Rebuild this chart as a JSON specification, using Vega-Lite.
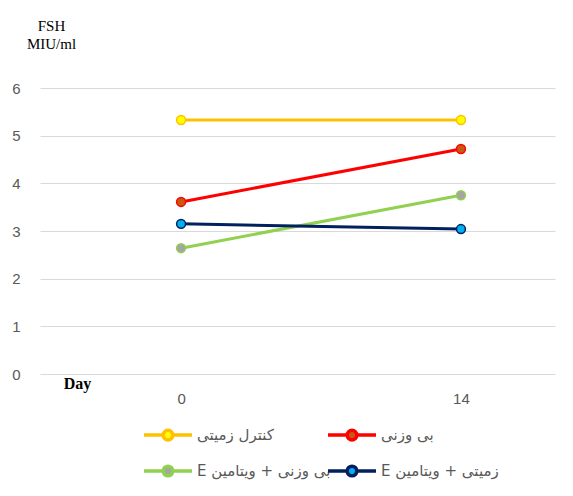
{
  "$schema": "https://vega.github.io/schema/vega-lite/v6.json",
  "width": 515,
  "height": 286,
  "autosize": {"type": "none"},
  "padding": {"left": 40, "top": 88, "right": 18, "bottom": 122},
  "background": "white",
  "config": {"view": {"stroke": null}},
  "data": {
    "values": [
      {"day": "0", "group": "کنترل زمیتی", "fsh": 5.33},
      {"day": "14", "group": "کنترل زمیتی", "fsh": 5.33},
      {"day": "0", "group": "بی وزنی", "fsh": 3.61},
      {"day": "14", "group": "بی وزنی", "fsh": 4.72},
      {"day": "0", "group": "بی وزنی + ویتامین E", "fsh": 2.64},
      {"day": "14", "group": "بی وزنی + ویتامین E", "fsh": 3.75},
      {"day": "0", "group": "زمیتی + ویتامین E", "fsh": 3.15},
      {"day": "14", "group": "زمیتی + ویتامین E", "fsh": 3.04}
    ]
  },
  "encoding": {
    "x": {
      "field": "day",
      "type": "ordinal",
      "sort": ["0", "14"],
      "scale": {"type": "point", "padding": 0.42, "align": 0.6},
      "axis": {
        "title": "Day",
        "titleFont": "Liberation Serif",
        "titleFontSize": 16,
        "titleFontWeight": "bold",
        "titleColor": "#000000",
        "titleX": 37,
        "titleY": 14,
        "titleAlign": "center",
        "titleBaseline": "alphabetic",
        "labelAngle": 0,
        "labelFont": "Liberation Sans",
        "labelFontSize": 15,
        "labelColor": "#595959",
        "labelPadding": 17,
        "ticks": false,
        "domain": false,
        "grid": false
      }
    },
    "y": {
      "field": "fsh",
      "type": "quantitative",
      "scale": {"domain": [0, 6], "nice": false},
      "axis": {
        "values": [0, 1, 2, 3, 4, 5, 6],
        "title": ["FSH", "MIU/ml"],
        "titleFont": "Liberation Serif",
        "titleFontSize": 15,
        "titleFontWeight": "normal",
        "titleColor": "#000000",
        "titleAngle": 0,
        "titleAlign": "center",
        "titleBaseline": "alphabetic",
        "titleX": 11,
        "titleY": -58,
        "titleLineHeight": 18,
        "labelFont": "Liberation Sans",
        "labelFontSize": 15,
        "labelColor": "#595959",
        "labelPadding": 20,
        "ticks": false,
        "domain": false,
        "grid": true,
        "gridColor": "#d9d9d9",
        "gridWidth": 1
      }
    }
  },
  "layer": [
    {
      "mark": {"type": "line", "strokeWidth": 3},
      "encoding": {
        "stroke": {
          "field": "group",
          "type": "nominal",
          "scale": {
            "domain": ["کنترل زمیتی", "بی وزنی", "بی وزنی + ویتامین E", "زمیتی + ویتامین E"],
            "range": ["#FFC000", "#FF0000", "#92D050", "#002060"]
          },
          "legend": {
            "title": null,
            "orient": "none",
            "legendX": 114,
            "legendY": 333,
            "columns": 2,
            "direction": "horizontal",
            "symbolType": "M-2,0H-0.4M0.4,0H2M-0.4,0A0.4,0.4 0 1,1 0.4,0A0.4,0.4 0 1,1 -0.4,0Z",
            "symbolSize": 576,
            "symbolStrokeWidth": 3.5,
            "labelOffset": 15,
            "labelFont": "DejaVu Sans",
            "labelFontSize": 15,
            "labelColor": "#595959",
            "labelLimit": 300,
            "rowPadding": 10,
            "columnPadding": -10,
            "labelExpr": "'\u202B' + datum.label + '\u202C'",
            "encode": {
              "symbols": {
                "update": {
                  "fill": {"scale": "fill", "field": "value"},
                  "fillOpacity": {"value": 1}
                }
              }
            }
          }
        }
      }
    },
    {
      "mark": {"type": "point", "filled": true, "size": 80, "strokeWidth": 1.5, "opacity": 1},
      "encoding": {
        "fill": {
          "field": "group",
          "type": "nominal",
          "scale": {
            "domain": ["کنترل زمیتی", "بی وزنی", "بی وزنی + ویتامین E", "زمیتی + ویتامین E"],
            "range": ["#FFFF00", "#C55A11", "#A5A5A5", "#00B0F0"]
          },
          "legend": null
        },
        "stroke": {"field": "group", "type": "nominal"}
      }
    }
  ]
}
